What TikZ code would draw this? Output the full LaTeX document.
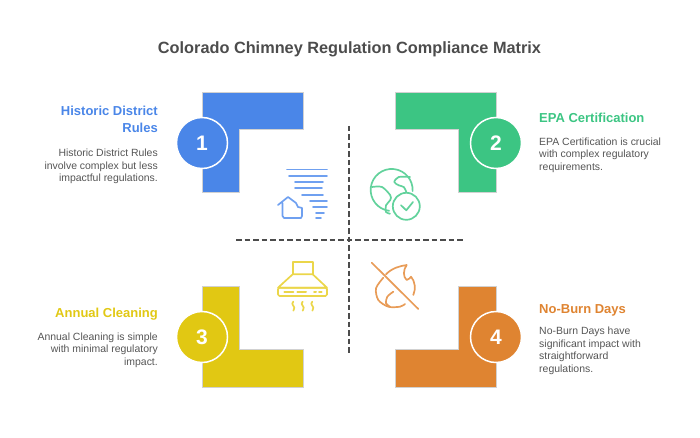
\documentclass[tikz,border=0pt]{standalone}
\usepackage{fontspec}
\setmainfont{Liberation Sans}
\usepackage{xcolor}
\definecolor{bluefill}{HTML}{4A86E8}
\definecolor{greenfill}{HTML}{3CC583}
\definecolor{yellowfill}{HTML}{E1C813}
\definecolor{orangefill}{HTML}{DF8431}
\definecolor{blueicon}{HTML}{6FA0F0}
\definecolor{greenicon}{HTML}{62D29C}
\definecolor{yellowicon}{HTML}{EBD64A}
\definecolor{orangeicon}{HTML}{E89C58}
\definecolor{bodytext}{HTML}{555555}
\begin{document}
\begin{tikzpicture}[x=1pt,y=-1pt,
  corner/.style={draw=black!18,line width=1pt},
  badge/.style={circle,draw=white,line width=1.5pt,minimum size=51pt,inner sep=0pt,
    text=white,font=\fontsize{21}{21}\selectfont\bfseries},
  headleft/.style={anchor=north east,inner sep=0pt,align=right,font=\fontsize{13}{17}\selectfont\bfseries},
  headright/.style={anchor=north west,inner sep=0pt,align=left,font=\fontsize{13}{17}\selectfont\bfseries},
  bodyleft/.style={anchor=north east,inner sep=0pt,align=right,text=bodytext,font=\fontsize{10.45}{12.6}\selectfont},
  bodyright/.style={anchor=north west,inner sep=0pt,align=left,text=bodytext,font=\fontsize{10.45}{12.6}\selectfont},
  axis/.style={draw=black!70,line width=1.4pt,dash pattern=on 5.5pt off 3pt},
  icon/.style={line width=1.7pt,line cap=round,line join=round}]
  \useasboundingbox (0,0) rectangle (700,438);
  \node (title) at (349.5,49) [text=black!70,font=\fontsize{16.3}{18}\selectfont\bfseries] {Colorado Chimney Regulation Compliance Matrix};
  % axes
  \coordinate (west) at (236,240);
  \coordinate (east) at (463,240);
  \coordinate (north) at (349,126);
  \coordinate (south) at (349,353);
  \draw[axis] (west) -- (east);
  \draw[axis] (north) -- (south);
  % corners
  \draw[corner,fill=bluefill] (202,93) -- (303,93) -- (303,130) -- (239,130) -- (239,193) -- (202,193) -- cycle;
  \draw[corner,fill=greenfill] (395,93) -- (496,93) -- (496,193) -- (458,193) -- (458,130) -- (395,130) -- cycle;
  \draw[corner,fill=yellowfill] (202,286) -- (239,286) -- (239,349) -- (303,349) -- (303,387) -- (202,387) -- cycle;
  \draw[corner,fill=orangefill] (458,286) -- (496,286) -- (496,387) -- (395,387) -- (395,349) -- (458,349) -- cycle;
  \node (one) at (202,143) [badge,fill=bluefill] {1};
  \node (two) at (496,143) [badge,fill=greenfill] {2};
  \node (three) at (202,337) [badge,fill=yellowfill] {3};
  \node (four) at (496,337) [badge,fill=orangefill] {4};
  % texts
  \node (histhead) at (158,106) [headleft,text=bluefill] {Historic District\\Rules};
  \node (histbody) at (158,149) [bodyleft] {Historic District Rules\\involve complex but less\\impactful regulations.};
  \node (epahead) at (539,113) [headright,text=greenfill] {EPA Certification};
  \node (epabody) at (539,137.5) [bodyright] {EPA Certification is crucial\\with complex regulatory\\requirements.};
  \node (cleanhead) at (158,308) [headleft,text=yellowfill] {Annual Cleaning};
  \node (cleanbody) at (158,332.5) [bodyleft] {Annual Cleaning is simple\\with minimal regulatory\\impact.};
  \node (burnhead) at (539,304) [headright,text=orangefill] {No-Burn Days};
  \node (burnbody) at (539,327) [bodyright] {No-Burn Days have\\significant impact with\\straightforward\\regulations.};
  % tornado and house
  \draw[icon,blueicon] (287,169.5) -- (327,169.5) (289,176) -- (327,176) (295,182) -- (323,182)
    (295,188) -- (322,188) (302,195) -- (323,195) (310,201) -- (327,201)
    (313,207) -- (327,207) (316,213) -- (324,213) (316,218) -- (321,218);
  \draw[icon,blueicon] (278,205) -- (288,197) -- (296,203) -- (298,207) -- (302,208) -- (302,216)
    -- (301,218) -- (284,218) -- (282.5,216) -- (282.5,203);
  % globe
  \draw[icon,greenicon] (389.1,210.8) arc[start angle=97,end angle=363,radius=21];
  \draw[icon,greenicon] (406.3,206.3) circle[radius=13.5];
  \draw[icon,greenicon] (401,205.3) -- (406.3,210.3) -- (413,202);
  \draw[icon,greenicon] plot[smooth] coordinates {(372,187) (382,187) (390.3,195.3) (390.3,200) (386,205.3) (386,212) (390,213.7)};
  \draw[icon,greenicon] plot[smooth] coordinates {(410,177) (398.7,177) (394.3,182) (398.7,185.3) (403.7,187) (406.3,192)};
  % hood
  \draw[icon,yellowicon] (292.7,274.3) -- (292.7,261.7) -- (312.7,261.7) -- (312.7,274.3);
  \draw[icon,yellowicon] (292.7,274.3) -- (312.7,274.3) -- (327,287.7) -- (278,287.7) -- cycle;
  \draw[icon,yellowicon,rounded corners=1.5pt] (278,287.7) rectangle (327,296);
  \draw[icon,yellowicon,line width=2pt] (284.3,291.7) -- (293.3,291.7) (297.3,291.7) -- (306,291.7) (314,291.7) -- (316,291.7) (319,291.7) -- (321.7,291.7);
  \foreach \sx in {293.3,302.7,312.3}
    \draw[icon,yellowicon] plot[smooth] coordinates {(\sx,301.7) (\sx-1,304) (\sx+1,307.5) (\sx,310.7)};
  % flame
  \draw[icon,orangeicon] (371.7,262.7) -- (418.3,309);
  \draw[icon,orangeicon] plot[smooth] coordinates {(383.3,277.7) (376,288.3) (378.3,300) (388.3,306.7) (400,306.7) (405,304)};
  \draw[icon,orangeicon] (386,274.3) .. controls (392,268) and (400,266) .. (406.7,265)
    .. controls (403,270) and (403,277) .. (406.7,280) .. controls (409,279) and (410.5,278) .. (411,276.7)
    .. controls (415,281) and (416,289) .. (413.3,295);
  \draw[icon,orangeicon] plot[smooth] coordinates {(393.3,291.7) (387.3,296.7) (386,303.3) (390,306.7)};
\end{tikzpicture}
\end{document}
